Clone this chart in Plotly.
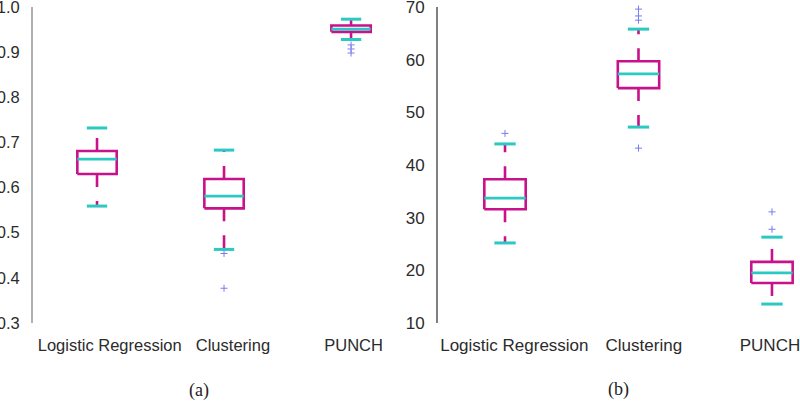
import plotly.graph_objects as go

categories = ["Logistic Regression", "Clustering", "PUNCH"]

# Panel (a)
a_lower = [0.559, 0.463, 0.928]
a_q1 = [0.630, 0.554, 0.945]
a_med = [0.663, 0.581, 0.951]
a_q3 = [0.681, 0.619, 0.959]
a_upper = [0.732, 0.683, 0.973]
a_outliers = [[], [0.454, 0.377], [0.916, 0.907, 0.898]]
a_ticks = [0.3, 0.4, 0.5, 0.6, 0.7, 0.8, 0.9, 1.0]

# Panel (b)
b_lower = [25.2, 47.2, 13.6]
b_q1 = [31.6, 54.6, 17.6]
b_med = [33.7, 57.3, 19.5]
b_q3 = [37.3, 59.7, 21.6]
b_upper = [44.0, 65.8, 26.3]
b_outliers = [[46.0], [67.5, 68.3, 69.6, 43.2], [27.8, 31.1]]
b_ticks = [10, 20, 30, 40, 50, 60, 70]

MAG = "#c8128c"
CYAN = "#2cc9c2"
OUT = "#7a7af2"
HW = 0.155   # box half width (x units)
CW = 0.08    # cap half width
# horizontal nudge of category labels relative to the boxes (layout only)
A_LABEL_SHIFT = [0.10, 0.07, 0.02]
B_LABEL_SHIFT = [0.07, 0.04, -0.015]

fig = go.Figure()


def add_panel(xa, ya, lower, q1, med, q3, upper, outliers):
    for i in range(len(categories)):
        # whiskers (dashed magenta), starting from the box edge
        for y0, y1 in ((q3[i], upper[i]), (q1[i], lower[i])):
            fig.add_trace(go.Scatter(
                x=[i, i], y=[y0, y1], mode="lines", xaxis=xa, yaxis=ya,
                line=dict(color=MAG, width=2.6, dash="13px,14px"),
                showlegend=False, hoverinfo="skip", cliponaxis=False))
        # box
        fig.add_trace(go.Scatter(
            x=[i - HW, i + HW, i + HW, i - HW, i - HW],
            y=[q1[i], q1[i], q3[i], q3[i], q1[i]],
            mode="lines", xaxis=xa, yaxis=ya,
            line=dict(color=MAG, width=2.6), fill="toself", fillcolor="white",
            showlegend=False, hoverinfo="skip"))
        # median
        fig.add_trace(go.Scatter(
            x=[i - HW, i + HW], y=[med[i], med[i]], mode="lines",
            xaxis=xa, yaxis=ya, line=dict(color=CYAN, width=2.8),
            showlegend=False, hoverinfo="skip"))
        # caps
        fig.add_trace(go.Scatter(
            x=[i - CW, i + CW, None, i - CW, i + CW],
            y=[upper[i], upper[i], None, lower[i], lower[i]],
            mode="lines", xaxis=xa, yaxis=ya,
            line=dict(color=CYAN, width=3), connectgaps=False,
            showlegend=False, hoverinfo="skip"))
        # outliers
        if outliers[i]:
            fig.add_trace(go.Scatter(
                x=[i] * len(outliers[i]), y=outliers[i], mode="markers",
                xaxis=xa, yaxis=ya, cliponaxis=False,
                marker=dict(symbol="cross-thin", size=5,
                            line=dict(color=OUT, width=1)),
                showlegend=False, hoverinfo="skip"))


add_panel("x", "y", a_lower, a_q1, a_med, a_q3, a_upper, a_outliers)
add_panel("x2", "y2", b_lower, b_q1, b_med, b_q3, b_upper, b_outliers)

W, H = 800, 401
ydom = [1 - 323 / H, 1 - 7 / H]
tickfont_a = dict(family="Liberation Sans, Arial, sans-serif", size=16.5, color="#2b2b2b")
tickfont_b = dict(family="Liberation Sans, Arial, sans-serif", size=17, color="#2b2b2b")

fig.update_layout(
    width=W, height=H,
    margin=dict(l=0, r=0, t=0, b=0),
    paper_bgcolor="white", plot_bgcolor="white",
    showlegend=False,
    xaxis=dict(domain=[33 / W, 395 / W], range=[-0.504, 2.346],
               tickvals=[i + s for i, s in enumerate(A_LABEL_SHIFT)],
               ticktext=categories, tickfont=tickfont_a,
               showgrid=False, zeroline=False, showline=False, ticks="",
               automargin=False, anchor="y", ticklabelstandoff=10,
               ticklabeloverflow="allow"),
    yaxis=dict(domain=ydom, range=[0.3, 1.0], tickvals=a_ticks,
               tickformat=".1f", tickfont=tickfont_a,
               showgrid=False, zeroline=False, showline=True,
               linecolor="#b0b0b0", linewidth=2, ticks="",
               automargin=False, anchor="x", ticklabelstandoff=8,
               ticklabeloverflow="allow"),
    xaxis2=dict(domain=[438 / W, 1.0], range=[-0.502, 2.21],
                tickvals=[i + s for i, s in enumerate(B_LABEL_SHIFT)],
                ticktext=categories, tickfont=tickfont_b,
                showgrid=False, zeroline=False, showline=False, ticks="",
                automargin=False, anchor="y2", ticklabelstandoff=10,
                ticklabeloverflow="allow"),
    yaxis2=dict(domain=ydom, range=[10, 70], tickvals=b_ticks,
                tickfont=tickfont_b,
                showgrid=False, zeroline=False, showline=True,
                linecolor="#808080", linewidth=2, ticks="",
                automargin=False, anchor="x2", ticklabelstandoff=8,
                ticklabeloverflow="allow"),
    annotations=[
        dict(text="(a)", x=199 / W, y=1 - 390 / H, xref="paper", yref="paper",
             showarrow=False, xanchor="center", yanchor="middle",
             font=dict(family="Liberation Serif, Times New Roman, serif", size=18, color="#222")),
        dict(text="(b)", x=618 / W, y=1 - 389 / H, xref="paper", yref="paper",
             showarrow=False, xanchor="center", yanchor="middle",
             font=dict(family="Liberation Serif, Times New Roman, serif", size=18, color="#222")),
    ],
)

fig.write_html("out.html",
               config={"displayModeBar": False},
               post_script="document.body.style.margin='0px';"
                           "document.body.style.padding='0px';")
